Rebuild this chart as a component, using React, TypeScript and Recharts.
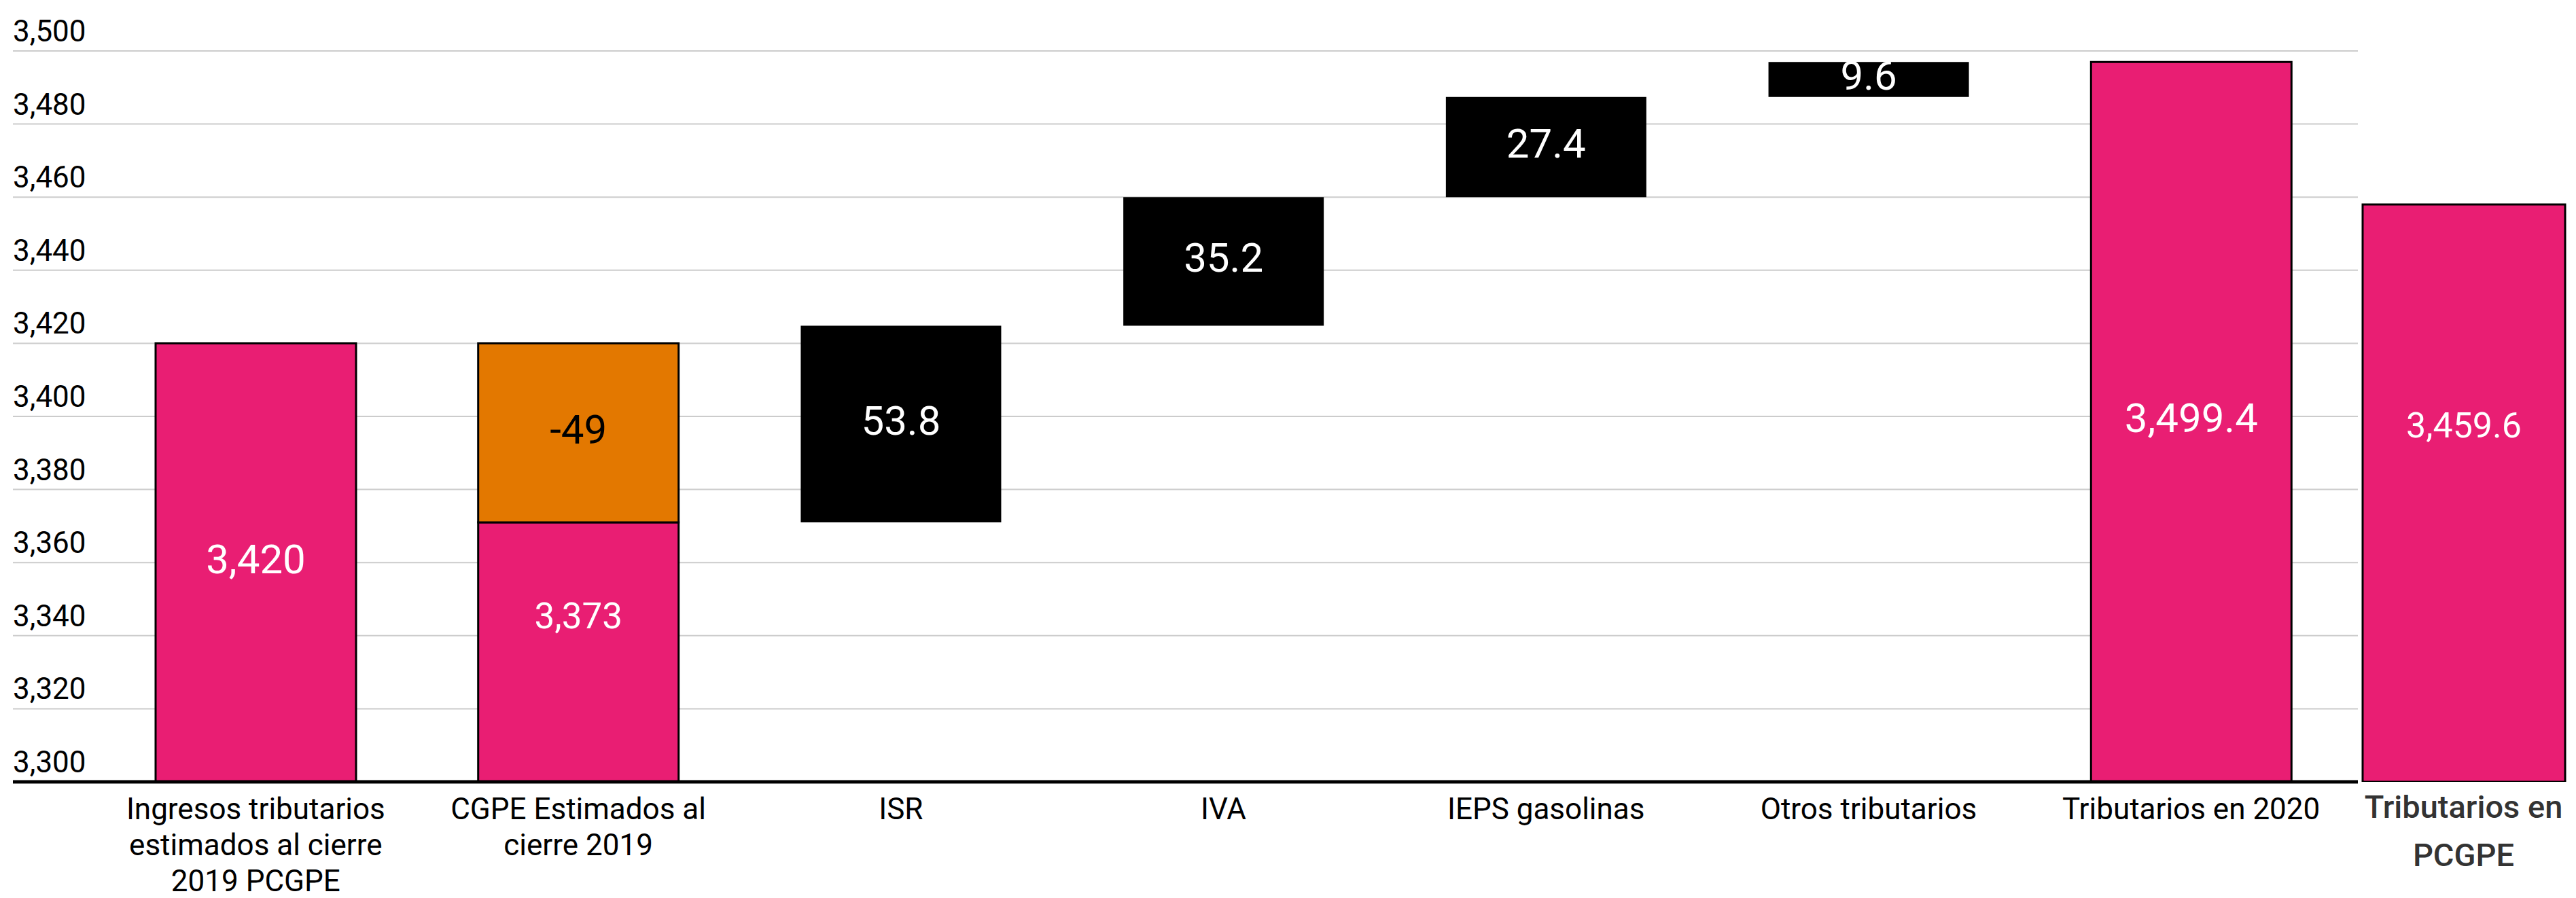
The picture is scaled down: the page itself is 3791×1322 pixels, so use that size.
import { Bar, BarChart, CartesianGrid, Cell, LabelList, XAxis, YAxis } from 'recharts';

const categories = [
  'Ingresos tributarios\nestimados al cierre\n2019 PCGPE',
  'CGPE Estimados al\ncierre 2019',
  'ISR',
  'IVA',
  'IEPS gasolinas',
  'Otros tributarios',
  'Tributarios en 2020',
];
// pink totals (bar heights as drawn)
const totals = [3420, 3371, null, null, null, null, 3497];
const totalLabels = ['3,420', '3,373', '', '', '', '', '3,499.4'];
// floating change bars
const deltaFrom = [null, 3371, 3371, 3424.8, 3460, 3487.4, null];
const deltaTo = [null, 3420, 3424.8, 3460, 3487.4, 3497, null];
const deltaLabels = ['', '-49', '53.8', '35.2', '27.4', '9.6', ''];

const pcgpeCategory = 'Tributarios en\nPCGPE';
const pcgpeValue = 3458;
const pcgpeLabel = '3,459.6';

const yTicks = [3300, 3320, 3340, 3360, 3380, 3400, 3420, 3440, 3460, 3480, 3500];

const PINK = '#E91E73';
const ORANGE = '#E37800';
const FONT = 'Roboto, sans-serif';

const data = categories.map((name, i) => ({
  name,
  total: totals[i],
  delta: deltaFrom[i] == null ? null : [deltaFrom[i], deltaTo[i]],
}));

const pcgpeData = [{ name: pcgpeCategory, total: pcgpeValue }];

function YTick(props: any) {
  const { y, payload } = props;
  return (
    <text x={19} y={y - 14} fontSize={44} fontFamily={FONT} fill="#000" textAnchor="start">
      {payload.value.toLocaleString('en-US')}
    </text>
  );
}

function XTick(props: any) {
  const { x, y, payload } = props;
  const lines = String(payload.value).split('\n');
  return (
    <text x={x} y={y} fontSize={44} fontFamily={FONT} fill="#000" textAnchor="middle">
      {lines.map((l, i) => (
        <tspan key={i} x={x} y={y + 55 + i * 53}>
          {l}
        </tspan>
      ))}
    </text>
  );
}

function PcgpeTick(props: any) {
  const { x, y, payload } = props;
  const lines = String(payload.value).split('\n');
  return (
    <text x={x} y={y} fontSize={47} fontWeight={500} fontFamily={FONT} fill="#333" textAnchor="middle">
      {lines.map((l, i) => (
        <tspan key={i} x={x} y={y + 53 + i * 71}>
          {l}
        </tspan>
      ))}
    </text>
  );
}

// centre a label inside its bar (looked up by category name); a couple sit higher in the original
const makeLabel = (
  names: string[],
  labels: string[],
  color: (i: number) => string,
  nudge: Record<number, number>,
  size: Record<number, number>,
) =>
  (props: any) => {
    const box = props.viewBox ?? props;
    const { x, y, width, height } = box;
    const i = names.indexOf(props.value);
    const text = labels[i];
    if (!text) return null;
    const fs = size[i] ?? 60;
    const cy = y + height / 2 - 6 + (nudge[i] ?? 0);
    return (
      <text x={x + width / 2} y={cy + fs * 0.355} fontSize={fs} fontFamily={FONT} fill={color(i)} textAnchor="middle">
        {text}
      </text>
    );
  };

export default function App() {
  return (
    <div style={{ position: 'absolute', left: 0, top: 0, width: 3791, height: 1322, background: '#fff' }}>
      <div style={{ position: 'absolute', left: 0, top: 0 }}>
        <BarChart
          width={3791}
          height={1322}
          data={data}
          margin={{ top: 75, right: 321, left: 18, bottom: 21 }}
          barSize={295}
          barGap={-295}
        >
          <CartesianGrid vertical={false} stroke="#cccccc" strokeWidth={2} />
          <XAxis
            dataKey="name"
            height={150}
            padding={{ left: 120, right: 8 }}
            tick={<XTick />}
            tickLine={false}
            tickSize={0}
            tickMargin={0}
            interval={0}
            axisLine={{ stroke: '#000', strokeWidth: 5 }}
          />
          <YAxis
            width={1}
            domain={[3300, 3500]}
            ticks={yTicks}
            allowDataOverflow
            axisLine={false}
            tickLine={false}
            tick={<YTick />}
          />
          <Bar dataKey="total" fill={PINK} stroke="#000" strokeWidth={3} isAnimationActive={false}>
            <LabelList
              dataKey="name"
              content={makeLabel(categories, totalLabels, () => '#fff', { 1: -48 }, { 1: 53 })}
            />
          </Bar>
          <Bar dataKey="delta" isAnimationActive={false}>
            {data.map((_, i) => (
              <Cell
                key={i}
                fill={i === 1 ? ORANGE : '#000'}
                stroke={i === 1 ? '#000' : 'none'}
                strokeWidth={3}
              />
            ))}
            <LabelList
              dataKey="name"
              content={makeLabel(categories, deltaLabels, (i) => (i === 1 ? '#000' : '#fff'), {}, {})}
            />
          </Bar>
        </BarChart>
      </div>
      <div style={{ position: 'absolute', left: 3470, top: 0 }}>
        <BarChart
          width={321}
          height={1322}
          data={pcgpeData}
          margin={{ top: 75, right: 10, left: 0, bottom: 21 }}
          barSize={298}
        >
          <XAxis
            dataKey="name"
            height={150}
            tick={<PcgpeTick />}
            tickLine={false}
            tickSize={0}
            tickMargin={0}
            axisLine={false}
            interval={0}
          />
          <YAxis hide domain={[3300, 3500]} allowDataOverflow />
          <Bar dataKey="total" fill={PINK} stroke="#000" strokeWidth={3} isAnimationActive={false}>
            <LabelList
              dataKey="name"
              content={makeLabel([pcgpeCategory], [pcgpeLabel], () => '#fff', { 0: -94 }, { 0: 52 })}
            />
          </Bar>
        </BarChart>
      </div>
    </div>
  );
}
